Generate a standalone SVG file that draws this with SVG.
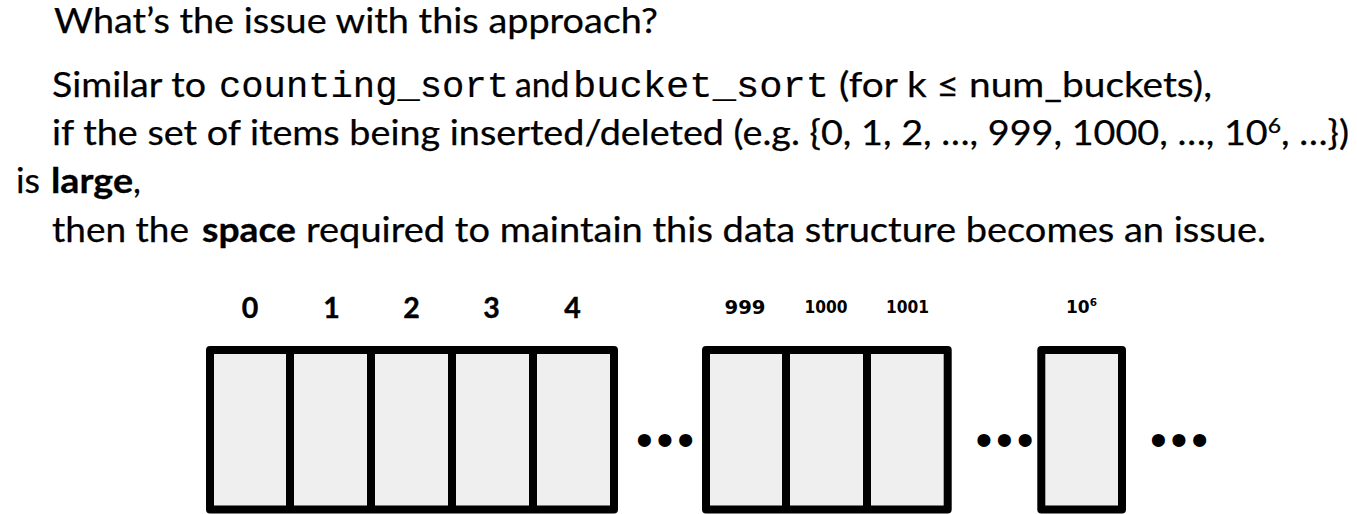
<svg xmlns="http://www.w3.org/2000/svg" width="1357" height="514" viewBox="0 0 1357 514">
<style>
.t{font-family:Lato,"Open Sans","Liberation Sans",sans-serif;font-size:34.5px;fill:#000;stroke:#000;stroke-width:0.25px}
.m{font-family:"Liberation Mono","DejaVu Sans Mono",monospace;font-size:37px;fill:#000;stroke:#000;stroke-width:0.2px}
.b{font-weight:bold;stroke-width:0.3px}
.idx{font-family:Lato,"Liberation Sans",sans-serif;font-weight:bold;font-size:28.5px;fill:#000;text-anchor:middle;stroke:#000;stroke-width:0.4px}
.sm{font-family:"DejaVu Sans","Liberation Sans",sans-serif;font-weight:bold;fill:#000}
.cell{fill:#efefef;stroke:#000;stroke-width:8;stroke-linejoin:round}
.div{stroke:#000;stroke-width:8}
.dots{font-family:"Liberation Sans",sans-serif;font-size:48px;fill:#000}
</style>
<rect width="1357" height="514" fill="#fff"/>
<g id="text">
<text class="t" x="54" y="32.5" textLength="604" lengthAdjust="spacingAndGlyphs">What’s the issue with this approach?</text>
<text class="t" x="52" y="97" textLength="154" lengthAdjust="spacingAndGlyphs">Similar to</text>
<text class="m" x="219" y="97" textLength="290" lengthAdjust="spacingAndGlyphs">counting_sort</text>
<text class="t" x="515" y="97" textLength="54.5" lengthAdjust="spacingAndGlyphs">and</text>
<text class="m" x="573" y="97" textLength="256" lengthAdjust="spacingAndGlyphs">bucket_sort</text>
<text class="t" x="839" y="97" textLength="373" lengthAdjust="spacingAndGlyphs">(for k ≤ num_buckets),</text>
<text class="t" x="52" y="145" textLength="1297" lengthAdjust="spacingAndGlyphs">if the set of items being inserted/deleted (e.g. {0, 1, 2, …, 999, 1000, …, 10<tspan font-size="21" dy="-12">6</tspan><tspan dy="12">, …})</tspan></text>
<text class="t" x="16" y="193" textLength="24" lengthAdjust="spacingAndGlyphs">is</text>
<text class="t b" x="51" y="193" textLength="82" lengthAdjust="spacingAndGlyphs">large</text>
<text class="t" x="133" y="193">,</text>
<text class="t" x="52" y="241.5" textLength="137" lengthAdjust="spacingAndGlyphs">then the</text>
<text class="t b" x="202" y="241.5" textLength="94" lengthAdjust="spacingAndGlyphs">space</text>
<text class="t" x="306" y="241.5" textLength="960" lengthAdjust="spacingAndGlyphs">required to maintain this data structure becomes an issue.</text>
</g>
<g id="array-0-4">
<rect class="cell" x="210" y="350" width="404" height="159.5"/>
<line class="div" x1="290" y1="350" x2="290" y2="509.5"/>
<line class="div" x1="371" y1="350" x2="371" y2="509.5"/>
<line class="div" x1="452" y1="350" x2="452" y2="509.5"/>
<line class="div" x1="533" y1="350" x2="533" y2="509.5"/>
<text class="idx" x="250" y="317.5">0</text>
<text class="idx" x="331.5" y="317.5">1</text>
<text class="idx" x="411.5" y="317.5">2</text>
<text class="idx" x="491.5" y="317.5">3</text>
<text class="idx" x="572.5" y="317.5">4</text>
</g>
<g id="array-999-1001">
<rect class="cell" x="706" y="350" width="241.7" height="159.5"/>
<line class="div" x1="786" y1="350" x2="786" y2="509.5"/>
<line class="div" x1="867" y1="350" x2="867" y2="509.5"/>
<text class="sm" x="724.5" y="313.5" font-size="19.5" textLength="41" lengthAdjust="spacingAndGlyphs">999</text>
<text class="sm" x="804.5" y="313" font-size="17" textLength="43" lengthAdjust="spacingAndGlyphs">1000</text>
<text class="sm" x="886" y="313" font-size="17" textLength="43" lengthAdjust="spacingAndGlyphs">1001</text>
</g>
<g id="array-1e6">
<rect class="cell" x="1041.3" y="350" width="80.7" height="159.5"/>
<text class="sm" x="1066" y="313" font-size="17">10<tspan font-size="10.5" dy="-7.5">6</tspan></text>
</g>
<g id="ellipses">
<text class="dots" x="636" y="456" textLength="58" lengthAdjust="spacing">•••</text>
<text class="dots" x="975.5" y="456" textLength="58" lengthAdjust="spacing">•••</text>
<text class="dots" x="1150" y="456" textLength="58" lengthAdjust="spacing">•••</text>
</g>
<g id="connectors"/>
</svg>
